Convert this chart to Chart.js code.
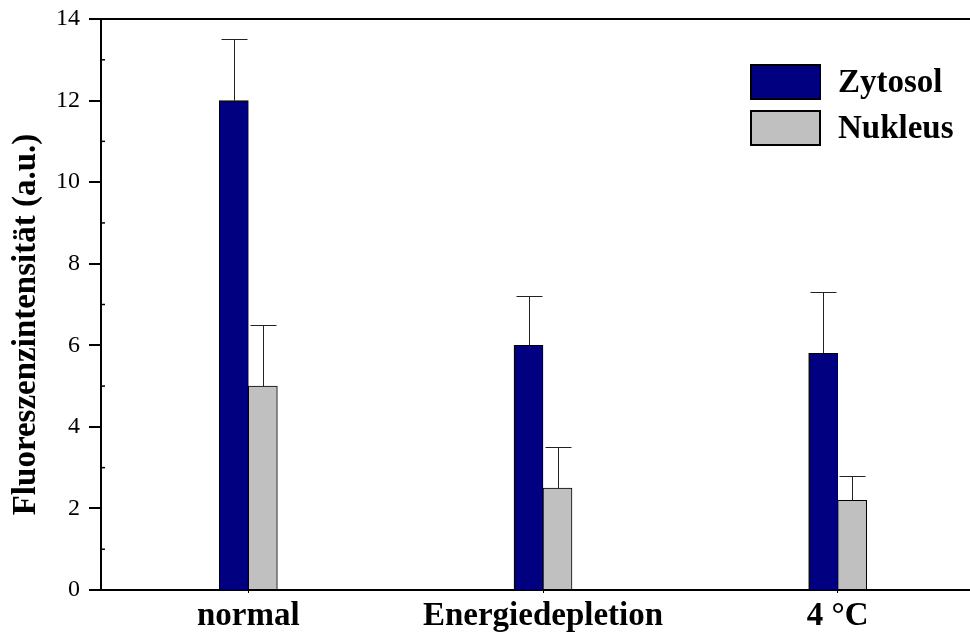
<!DOCTYPE html>
<html>
<head>
<meta charset="utf-8">
<script src="https://cdn.jsdelivr.net/npm/chart.js@4.4.1/dist/chart.umd.min.js"></script>
<style>
    html, body { margin: 0; padding: 0; background: #fff; overflow: hidden; }
    #wrap { width: 970px; height: 637px; overflow: hidden; }
    #fluoChart { display: block; }
</style>
</head>
<body>
<div id="wrap"><canvas id="fluoChart" width="985" height="637"></canvas></div>
<script>
// Categories and measured means / standard deviations
const conditions = ['normal', 'Energiedepletion', '4 °C'];
const zytosol = [12.0, 6.0, 5.8];
const nukleus = [5.0, 2.5, 2.2];
const zytosolErr = [1.5, 1.2, 1.5];
const nukleusErr = [1.5, 1.0, 0.6];
const seriesNames = ['Zytosol', 'Nukleus'];
const yTitle = 'Fluoreszenzintensität (a.u.)';
const yMax = 14;
const yStep = 2;

const SERIF = "'Liberation Serif', 'Times New Roman', serif";
Chart.defaults.font.family = SERIF;
Chart.defaults.color = '#000';

// Upper error bars with a short cap
const errorBars = {
    id: 'errorBars',
    afterDatasetsDraw(chart) {
        const ctx = chart.ctx;
        const y = chart.scales.y;
        ctx.save();
        ctx.strokeStyle = '#222';
        ctx.lineWidth = 1;
        chart.data.datasets.forEach((ds, i) => {
            const meta = chart.getDatasetMeta(i);
            meta.data.forEach((bar, j) => {
                const x = Math.round(bar.x) + 0.5;
                const top = Math.round(y.getPixelForValue(ds.data[j] + ds.errors[j])) + 0.5;
                ctx.beginPath();
                ctx.moveTo(x, bar.y);
                ctx.lineTo(x, top);
                ctx.moveTo(x - 13, top);
                ctx.lineTo(x + 13, top);
                ctx.stroke();
            });
        });
        ctx.restore();
    }
};

// Top frame line, inward minor y ticks and the rotated y title
const frame = {
    id: 'frame',
    afterDraw(chart) {
        const { ctx, chartArea: a } = chart;
        const y = chart.scales.y;
        ctx.save();
        ctx.strokeStyle = '#000';
        ctx.lineWidth = 2;
        ctx.beginPath();
        ctx.moveTo(a.left, a.top);
        ctx.lineTo(a.right, a.top);
        ctx.stroke();
        ctx.lineWidth = 1.5;
        for (let v = 1; v < yMax; v += yStep) {
            const py = y.getPixelForValue(v);
            ctx.beginPath();
            ctx.moveTo(a.left, py);
            ctx.lineTo(a.left + 4, py);
            ctx.stroke();
        }
        ctx.translate(26, (a.top + a.bottom) / 2 + 20);
        ctx.rotate(-Math.PI / 2);
        ctx.font = 'bold 33px ' + SERIF;
        ctx.textAlign = 'center';
        ctx.textBaseline = 'middle';
        ctx.fillStyle = '#000';
        ctx.fillText(yTitle, 0, 0);
        ctx.restore();
    }
};

// Legend boxes inside the plot area
const boxLegend = {
    id: 'boxLegend',
    afterDraw(chart) {
        const ctx = chart.ctx;
        ctx.save();
        ctx.font = 'bold 33px ' + SERIF;
        ctx.textBaseline = 'middle';
        ctx.textAlign = 'left';
        chart.data.datasets.forEach((ds, i) => {
            const top = 65 + i * 46;
            ctx.fillStyle = ds.backgroundColor;
            ctx.fillRect(751, top, 69, 34);
            ctx.strokeStyle = '#000';
            ctx.lineWidth = 2;
            ctx.strokeRect(751, top, 69, 34);
            ctx.fillStyle = '#000';
            ctx.fillText(ds.label, 838, top + 18);
        });
        ctx.restore();
    }
};

new Chart(document.getElementById('fluoChart'), {
    type: 'bar',
    data: {
        labels: conditions,
        datasets: [
            {
                label: seriesNames[0],
                data: zytosol,
                errors: zytosolErr,
                backgroundColor: '#000080',
                borderColor: '#000',
                borderWidth: 1,
                barThickness: 29
            },
            {
                label: seriesNames[1],
                data: nukleus,
                errors: nukleusErr,
                backgroundColor: '#c0c0c0',
                borderColor: '#000',
                borderWidth: 1,
                barThickness: 29
            }
        ]
    },
    options: {
        responsive: false,
        animation: false,
        layout: { padding: { top: 19, left: 0, right: 0, bottom: 0 } },
        plugins: {
            legend: { display: false },
            tooltip: { enabled: false }
        },
        scales: {
            x: {
                offset: true,
                grid: { display: true, offset: false, drawOnChartArea: false, tickLength: 3, color: '#000', lineWidth: 1 },
                border: { display: true, color: '#000', width: 2 },
                ticks: { padding: 4, font: { size: 33, weight: 'bold' }, color: '#000' },
                afterFit(scale) {
                    scale.height = 47;
                    scale.paddingLeft = 0;
                    scale.paddingRight = 0;
                }
            },
            y: {
                min: 0,
                max: yMax,
                grid: { display: true, drawOnChartArea: false, tickLength: 12, color: '#000', lineWidth: 2 },
                border: { display: true, color: '#000', width: 2 },
                ticks: { stepSize: yStep, padding: 9, font: { size: 24 }, color: '#000' },
                afterFit(scale) {
                    scale.width = 101;
                    scale.paddingTop = 0;
                    scale.paddingBottom = 0;
                }
            }
        }
    },
    plugins: [errorBars, frame, boxLegend]
});
</script>
</body>
</html>
